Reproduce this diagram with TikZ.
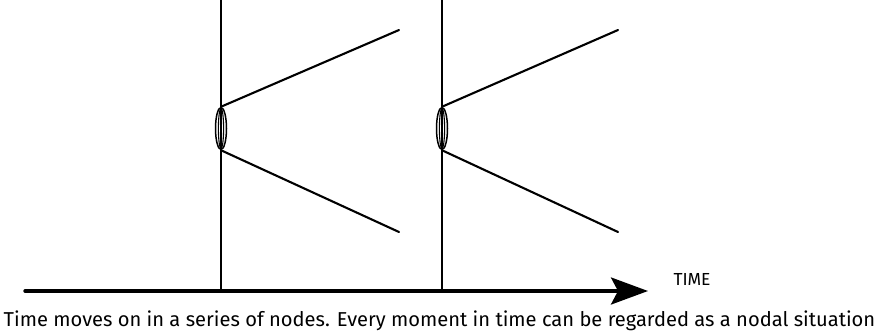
\documentclass[tikz,border=0pt]{standalone}
\usepackage{fontspec}
\setmainfont{Fira Sans}
\usetikzlibrary{arrows.meta, shapes.geometric, positioning}

\begin{document}
\begin{tikzpicture}[x=1bp, y=-1bp, line cap=round,
  stem/.style={line width=2bp},
  fan/.style={line width=2.1bp},
  nodal/.style={ellipse, draw, line width=1.5bp, minimum width=11bp,
    minimum height=42bp, inner sep=0pt},
  timeaxis/.style={line width=3.4bp, -{Stealth[length=37bp, width=27bp, inset=7bp]}}]
\useasboundingbox (0,0) rectangle (879,330);

% Time axis
\coordinate (T0) at (25,291);
\coordinate (T1) at (648,291);
\draw[timeaxis] (T0) -- (T1);
\node[anchor=base west, font=\fontsize{17.5}{20}\selectfont] (time) at (670,285) {TIME};

% Nodes in time
\foreach \n/\x/\xe in {1/221/399, 2/442/618} {
  \coordinate (top\n) at (\x,0);
  \coordinate (bot\n) at (\x,291);
  \node[nodal] (node\n) at (\x,128.5) {};
  \draw[line width=1.1bp] (node\n) ellipse [x radius=2.6bp, y radius=20bp];
  \draw[stem] (top\n) -- (bot\n);
  % branches
  \coordinate (up\n) at (\xe,30);
  \coordinate (dn\n) at (\xe,232);
  \draw[fan] (node\n.north) -- (up\n);
  \draw[fan] (node\n.south) -- (dn\n);
}

% Caption
\node[anchor=base, font=\fontsize{20.2}{24}\selectfont] (caption) at (439.5,326) {Time moves on in a series of nodes. Every moment in time can be regarded as a nodal situation};
\end{tikzpicture}
\end{document}
